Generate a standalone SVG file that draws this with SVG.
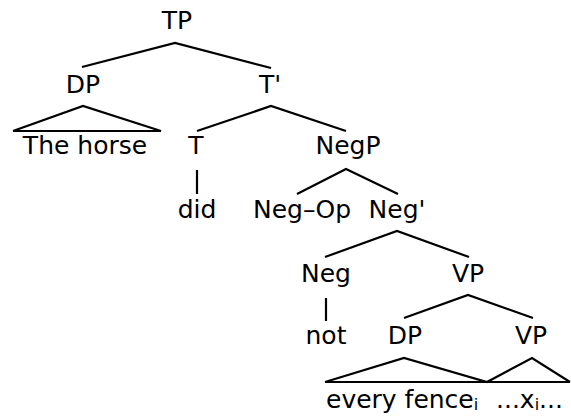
<svg xmlns="http://www.w3.org/2000/svg" width="571" height="416" viewBox="0 0 571 416">
  <style>
    text { font-family: "DejaVu Sans", "Liberation Sans", sans-serif; font-size: 25px; fill: #000; text-anchor: middle; }
    .l { text-anchor: start; }
    .sub { font-size: 16px; }
    .edge { stroke: #000; stroke-width: 2.2; fill: none; stroke-linejoin: miter; }
  </style>
  <rect width="571" height="416" fill="#fff"/>

  <!-- branches and roofs -->
  <g id="connectors" class="edge">
    <polyline points="82,67 175,43 271,68"/>
    <polyline points="13,131 83,106 161,131 13,131"/>
    <polyline points="197,131 271,106 346,131"/>
    <line x1="197" y1="170" x2="197" y2="194"/>
    <polyline points="297,194 346,169 398,194"/>
    <polyline points="325,257 397,231 469,257"/>
    <line x1="326" y1="298" x2="326" y2="321"/>
    <polyline points="404,318 468,295 533,318"/>
    <polyline points="325,382 404,358 487,382 532,358 570,382"/>
    <line x1="325" y1="382" x2="570" y2="382"/>
  </g>

  <g id="tp"><text x="177" y="29">TP</text></g>
  <g id="dp-subject"><text x="83" y="93">DP</text></g>
  <g id="the-horse"><text x="85" y="154">The horse</text></g>
  <g id="t-bar"><text x="270" y="93">T'</text></g>
  <g id="t"><text x="196" y="154">T</text></g>
  <g id="did"><text x="197" y="218">did</text></g>
  <g id="negp"><text x="348" y="154">NegP</text></g>
  <g id="neg-op"><text x="302" y="218">Neg–Op</text></g>
  <g id="neg-bar"><text x="397" y="218">Neg'</text></g>
  <g id="neg"><text x="326" y="282">Neg</text></g>
  <g id="not"><text x="326" y="344">not</text></g>
  <g id="vp"><text x="468" y="282">VP</text></g>
  <g id="dp-object"><text x="405" y="344">DP</text></g>
  <g id="vp-lower"><text x="531" y="344">VP</text></g>
  <g id="every-fence"><text class="l" x="326" y="408">every fence<tspan class="sub" dy="2">i</tspan></text></g>
  <g id="trace"><text class="l" x="496" y="408">...x<tspan class="sub" dy="2">i</tspan><tspan dy="-2">...</tspan></text></g>
</svg>
